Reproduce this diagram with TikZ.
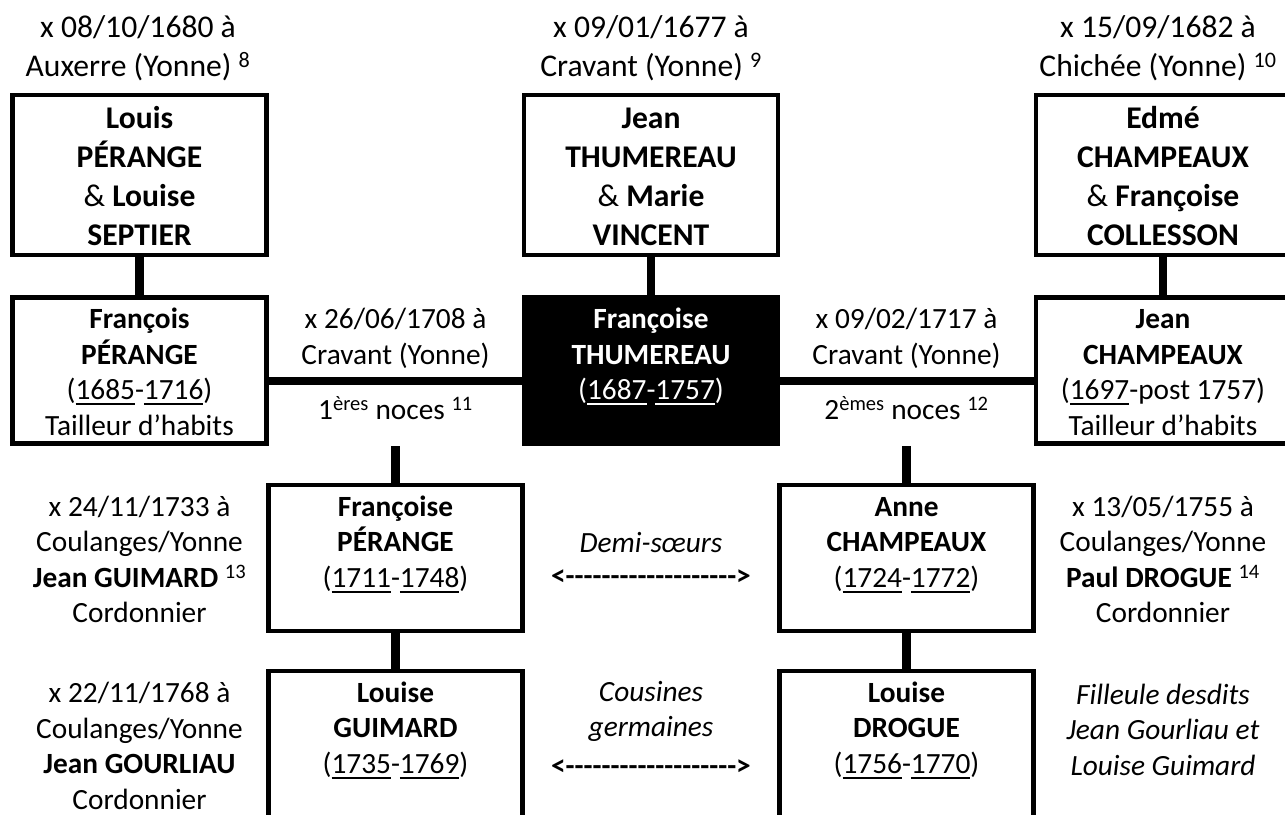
\documentclass[tikz,border=0pt]{standalone}
\usepackage{fontspec}
\setmainfont{Carlito}
\newcommand\zs{\rule[-3pt]{0pt}{29pt}}
\newsavebox\yrbox
\newcommand\yr[1]{\sbox\yrbox{#1}\rlap{\rule[-5.5pt]{\wd\yrbox}{2pt}}\usebox\yrbox}
\newcommand\hy{-\kern0pt}
\newcommand\arrowtxt{\textbf{<\hy\hy\hy\hy\hy\hy\hy\hy\hy\hy\hy\hy\hy\hy\hy\hy\hy\hy\hy>}}
\tikzset{
  basefont/.style={font=\fontsize{29.33}{35.5}\selectfont},
  widefont/.style={font=\fontsize{31.6}{39}\selectfont},
  txt/.style={basefont, align=center, inner sep=0pt},
  box/.style={txt, draw=black, line width=4.5pt, minimum width=254pt,
    minimum height=146pt, inner sep=1pt},
  toprow/.style={widefont, minimum height=160pt},
  focus/.style={fill=black, text=white},
  conn/.style={draw=black, line width=8.5pt},
}
\begin{document}
\begin{tikzpicture}[x=1pt,y=-1pt]
\useasboundingbox (0,0) rectangle (1285,814);
\clip (0,0) rectangle (1285,814);

% top labels
\node[txt, widefont] (topA) at (138,46.2) {\zs x 08/10/1680 à\\Auxerre (Yonne) \textsuperscript{8}\zs};
\node[txt, widefont] (topC) at (651,46.2) {\zs x 09/01/1677 à\\Cravant (Yonne) \textsuperscript{9}\zs};
\node[txt, widefont] (topE) at (1158,46.2) {\zs x 15/09/1682 à\\Chichée (Yonne) \textsuperscript{10}\zs};

% row 1
\node[box, toprow] (louis) at (139.5,175) {\zs\textbf{Louis}\\\textbf{PÉRANGE}\\\& \textbf{Louise}\\\textbf{SEPTIER}\zs};
\node[box, toprow] (jeant) at (651,175) {\zs\textbf{Jean}\\\textbf{THUMEREAU}\\\& \textbf{Marie}\\\textbf{VINCENT}\zs};
\node[box, toprow] (edme) at (1163,175) {\zs\textbf{Edmé}\\\textbf{CHAMPEAUX}\\\& \textbf{Françoise}\\\textbf{COLLESSON}\zs};

% row 2
\node[box] (fran) at (139.5,370.5) {\zs\textbf{François}\\\textbf{PÉRANGE}\\(\yr{1685}-\yr{1716})\\Tailleur d’habits\zs};
\node[box, focus] (fth) at (651,370.5) {\zs\textbf{Françoise}\\\textbf{THUMEREAU}\\(\yr{1687}-\yr{1757})\\\zs};
\node[box] (jeanc) at (1163,370.5) {\zs\textbf{Jean}\\\textbf{CHAMPEAUX}\\(\yr{1697}-post 1757)\\Tailleur d’habits\zs};

% marriage labels
\node[txt] (m1a) at (395.5,335.5) {\zs x 26/06/1708 à\\Cravant (Yonne)\zs};
\node[txt] (m1b) at (395.5,408) {\zs 1\textsuperscript{ères} noces \textsuperscript{11}\zs};
\node[txt] (m2a) at (906.5,335.5) {\zs x 09/02/1717 à\\Cravant (Yonne)\zs};
\node[txt] (m2b) at (906.5,408) {\zs 2\textsuperscript{èmes} noces \textsuperscript{12}\zs};
\coordinate (m1) at (395.5,381);
\coordinate (m2) at (906.5,381);

% row 3
\node[box] (fp) at (395.5,558) {\zs\textbf{Françoise}\\\textbf{PÉRANGE}\\(\yr{1711}-\yr{1748})\\\zs};
\node[box] (ac) at (906.5,558) {\zs\textbf{Anne}\\\textbf{CHAMPEAUX}\\(\yr{1724}-\yr{1772})\\\zs};
\node[txt] (l3) at (139.5,558) {\zs x 24/11/1733 à\\Coulanges/Yonne\\\textbf{Jean GUIMARD} \textsuperscript{13}\\Cordonnier\zs};
\node[txt] (r3) at (1163,558) {\zs x 13/05/1755 à\\Coulanges/Yonne\\\textbf{Paul DROGUE} \textsuperscript{14}\\Cordonnier\zs};
\node[txt] (demi) at (651,541) {\zs\textit{Demi-sœurs}\zs};
\node[txt] (arr3) at (651,573.5) {\zs\arrowtxt\zs};

% row 4
\node[box] (lg) at (395.5,744) {\zs\textbf{Louise}\\\textbf{GUIMARD}\\(\yr{1735}-\yr{1769})\\\zs};
\node[box] (ld) at (906.5,744) {\zs\textbf{Louise}\\\textbf{DROGUE}\\(\yr{1756}-\yr{1770})\\\zs};
\node[txt] (l4) at (139.5,744.5) {\zs x 22/11/1768 à\\Coulanges/Yonne\\\textbf{Jean GOURLIAU}\\Cordonnier\zs};
\node[txt] (r4) at (1163,728) {\zs\textit{Filleule desdits}\\\textit{Jean Gourliau et}\\\textit{Louise Guimard}\zs};
\node[txt] (cous) at (651,708.5) {\zs\textit{Cousines}\\\textit{germaines}\zs};
\node[txt] (arr4) at (651,763.5) {\zs\arrowtxt\zs};

% connectors
\draw[conn] (louis.south) -- (fran.north);
\draw[conn] (jeant.south) -- (fth.north);
\draw[conn] (edme.south) -- (jeanc.north);
\draw[conn] (fran.east |- m1) -- (fth.west |- m1);
\draw[conn] (fth.east |- m2) -- (jeanc.west |- m2);
\draw[conn] (fp.north) -- (fp.north |- fran.south);
\draw[conn] (ac.north) -- (ac.north |- jeanc.south);
\draw[conn] (fp.south) -- (lg.north);
\draw[conn] (ac.south) -- (ld.north);
\end{tikzpicture}
\end{document}
